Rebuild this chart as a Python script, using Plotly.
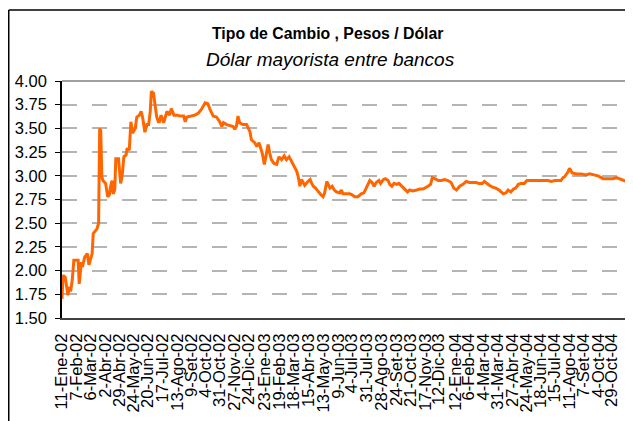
import plotly.graph_objects as go

# ---- data ----
dates = [
    "2002-01-11", "2002-01-13", "2002-01-17", "2002-01-22", "2002-01-25", "2002-01-27", "2002-01-30",
    "2002-02-02", "2002-02-10", "2002-02-12", "2002-02-16", "2002-02-18", "2002-02-22", "2002-02-27",
    "2002-03-02", "2002-03-05", "2002-03-08", "2002-03-10", "2002-03-13", "2002-03-17", "2002-03-20",
    "2002-03-22", "2002-03-24", "2002-03-26", "2002-03-28", "2002-04-02", "2002-04-06", "2002-04-09",
    "2002-04-11", "2002-04-14", "2002-04-16", "2002-04-19", "2002-04-21", "2002-04-26", "2002-04-30",
    "2002-05-03", "2002-05-06", "2002-05-10", "2002-05-12", "2002-05-16", "2002-05-19", "2002-05-22",
    "2002-05-27", "2002-05-30", "2002-06-04", "2002-06-07", "2002-06-10", "2002-06-14", "2002-06-18",
    "2002-06-21", "2002-06-24", "2002-06-26", "2002-06-30", "2002-07-03", "2002-07-06", "2002-07-09",
    "2002-07-11", "2002-07-14", "2002-07-19", "2002-07-25", "2002-07-30", "2002-08-02", "2002-08-07",
    "2002-08-13", "2002-08-19", "2002-08-25", "2002-08-28", "2002-08-31", "2002-09-09", "2002-09-15",
    "2002-09-21", "2002-09-27", "2002-10-04", "2002-10-09", "2002-10-13", "2002-10-19", "2002-10-25",
    "2002-10-31", "2002-11-04", "2002-11-07", "2002-11-13", "2002-11-19", "2002-11-25", "2002-11-28",
    "2002-12-01", "2002-12-04", "2002-12-07", "2002-12-13", "2002-12-20", "2002-12-26", "2002-12-29",
    "2003-01-04", "2003-01-08", "2003-01-12", "2003-01-16", "2003-01-18", "2003-01-22", "2003-01-26",
    "2003-01-29", "2003-02-01", "2003-02-04", "2003-02-09", "2003-02-14", "2003-02-18", "2003-02-23",
    "2003-02-28", "2003-03-04", "2003-03-09", "2003-03-14", "2003-03-18", "2003-03-23", "2003-03-26",
    "2003-03-29", "2003-04-01", "2003-04-04", "2003-04-07", "2003-04-13", "2003-04-17", "2003-04-20",
    "2003-04-23", "2003-04-27", "2003-05-02", "2003-05-07", "2003-05-11", "2003-05-14", "2003-05-18",
    "2003-05-21", "2003-05-24", "2003-05-28", "2003-06-01", "2003-06-05", "2003-06-11", "2003-06-14",
    "2003-06-17", "2003-06-24", "2003-06-30", "2003-07-04", "2003-07-09", "2003-07-15", "2003-07-21",
    "2003-07-26", "2003-07-31", "2003-08-03", "2003-08-06", "2003-08-10", "2003-08-14", "2003-08-18",
    "2003-08-23", "2003-08-26", "2003-08-31", "2003-09-04", "2003-09-09", "2003-09-12", "2003-09-16",
    "2003-09-20", "2003-09-25", "2003-09-29", "2003-10-04", "2003-10-10", "2003-10-15", "2003-10-19",
    "2003-10-25", "2003-11-01", "2003-11-07", "2003-11-13", "2003-11-17", "2003-11-22", "2003-11-27",
    "2003-11-30", "2003-12-05", "2003-12-11", "2003-12-17", "2003-12-23", "2003-12-29", "2004-01-04",
    "2004-01-09", "2004-01-14", "2004-01-20", "2004-01-26", "2004-02-01", "2004-02-07", "2004-02-13",
    "2004-02-19", "2004-02-25", "2004-03-02", "2004-03-06", "2004-03-10", "2004-03-15", "2004-03-21",
    "2004-03-27", "2004-04-02", "2004-04-07", "2004-04-10", "2004-04-15", "2004-04-19", "2004-04-24",
    "2004-04-29", "2004-05-03", "2004-05-08", "2004-05-13", "2004-05-19", "2004-05-24", "2004-06-01",
    "2004-06-07", "2004-06-13", "2004-06-19", "2004-06-26", "2004-07-02", "2004-07-08", "2004-07-15",
    "2004-07-21", "2004-07-26", "2004-07-30", "2004-08-02", "2004-08-08", "2004-08-11", "2004-08-16",
    "2004-08-24", "2004-09-02", "2004-09-11", "2004-09-17", "2004-09-24", "2004-10-03", "2004-10-12",
    "2004-10-21", "2004-10-31", "2004-11-06", "2004-11-15", "2004-11-25", "2004-12-01", "2004-12-06",
]
pesos_por_dolar = [
    1.70, 1.95, 1.93, 1.74, 1.83, 1.78, 1.90,
    2.11, 2.11, 1.86, 2.09, 2.04, 2.14, 2.18,
    2.06, 2.11, 2.18, 2.39, 2.41, 2.44, 2.50,
    3.50, 3.48, 2.99, 2.95, 2.92, 2.78, 2.80,
    2.88, 2.95, 2.81, 2.85, 3.18, 3.18, 2.92,
    3.01, 3.20, 3.22, 3.29, 3.27, 3.57, 3.45,
    3.50, 3.62, 3.64, 3.68, 3.61, 3.46, 3.54,
    3.54, 3.68, 3.89, 3.87, 3.73, 3.62, 3.57,
    3.57, 3.64, 3.56, 3.68, 3.64, 3.71, 3.64,
    3.64, 3.63, 3.63, 3.57, 3.62, 3.63, 3.64,
    3.66, 3.70, 3.77, 3.76, 3.70, 3.63, 3.62,
    3.57, 3.52, 3.56, 3.54, 3.53, 3.52, 3.49,
    3.52, 3.63, 3.56, 3.54, 3.54, 3.47, 3.38,
    3.35, 3.31, 3.35, 3.29, 3.24, 3.12, 3.22,
    3.33, 3.24, 3.17, 3.13, 3.12, 3.20, 3.17,
    3.21, 3.17, 3.20, 3.15, 3.10, 3.05, 2.99,
    2.89, 2.96, 2.92, 2.90, 2.94, 2.96, 2.92,
    2.89, 2.87, 2.83, 2.80, 2.78, 2.82, 2.94,
    2.90, 2.87, 2.89, 2.85, 2.83, 2.82, 2.85,
    2.81, 2.81, 2.81, 2.80, 2.78, 2.78, 2.81,
    2.82, 2.88, 2.93, 2.95, 2.93, 2.89, 2.93,
    2.95, 2.92, 2.96, 2.97, 2.95, 2.91, 2.89,
    2.92, 2.91, 2.92, 2.89, 2.86, 2.83, 2.85,
    2.84, 2.85, 2.86, 2.86, 2.87, 2.89, 2.91,
    2.98, 2.97, 2.95, 2.95, 2.96, 2.95, 2.93,
    2.87, 2.85, 2.89, 2.91, 2.94, 2.93, 2.93,
    2.93, 2.92, 2.92, 2.94, 2.92, 2.90, 2.88,
    2.87, 2.85, 2.82, 2.81, 2.82, 2.85, 2.83,
    2.86, 2.87, 2.91, 2.92, 2.92, 2.95, 2.95,
    2.95, 2.95, 2.95, 2.95, 2.95, 2.94, 2.95,
    2.95, 2.95, 2.98, 2.99, 3.04, 3.08, 3.03,
    3.02, 3.02, 3.01, 3.02, 3.01, 3.00, 2.97,
    2.97, 2.97, 2.98, 2.96, 2.94, 2.95, 2.95,
]

tick_dates = [
    "2002-01-11", "2002-02-07", "2002-03-06", "2002-04-02", "2002-04-29", "2002-05-24",
    "2002-06-20", "2002-07-17", "2002-08-13", "2002-09-09", "2002-10-04", "2002-10-31",
    "2002-11-27", "2002-12-24", "2003-01-23", "2003-02-19", "2003-03-18", "2003-04-15",
    "2003-05-13", "2003-06-09", "2003-07-04", "2003-07-31", "2003-08-28", "2003-09-24",
    "2003-10-21", "2003-11-17", "2003-12-12", "2004-01-12", "2004-02-06", "2004-03-04",
    "2004-03-31", "2004-04-27", "2004-05-24", "2004-06-18", "2004-07-15", "2004-08-11",
    "2004-09-07", "2004-10-04", "2004-10-29", "2004-11-25",
]
tick_labels = [
    "11-Ene-02", "7-Feb-02", "6-Mar-02", "2-Abr-02", "29-Abr-02", "24-May-02",
    "20-Jun-02", "17-Jul-02", "13-Ago-02", "9-Set-02", "4-Oct-02", "31-Oct-02",
    "27-Nov-02", "24-Dic-02", "23-Ene-03", "19-Feb-03", "18-Mar-03", "15-Abr-03",
    "13-May-03", "9-Jun-03", "4-Jul-03", "31-Jul-03", "28-Ago-03", "24-Set-03",
    "21-Oct-03", "17-Nov-03", "12-Dic-03", "12-Ene-04", "6-Feb-04", "4-Mar-04",
    "31-Mar-04", "27-Abr-04", "24-May-04", "18-Jun-04", "15-Jul-04", "11-Ago-04",
    "7-Set-04", "4-Oct-04", "29-Oct-04", "25-Nov-04",
]

title_text = "Tipo de Cambio , Pesos / Dólar"
subtitle_text = "Dólar mayorista entre bancos"

FONT = "Arial, 'Liberation Sans', Helvetica, sans-serif"

# The page body has an 8px margin, so the figure is drawn 8px right and down.
OFF = 8
W, H = 633 - OFF, 421 - OFF
# plot area in window pixels: left 62, top 81, bottom 318, right 633
ML, MR, MT = 62 - OFF, 0, 81 - OFF
MB = H - (318 - OFF)
PW, PH = W - ML - MR, H - MT - MB


def px_x(px):
    """window pixel x -> paper coordinate"""
    return (px - OFF - ML) / PW


def px_y(py):
    """window pixel y -> paper coordinate"""
    return (H - MB - (py - OFF)) / PH


fig = go.Figure()
fig.add_trace(go.Scatter(
    x=dates, y=pesos_por_dolar, mode="lines",
    line=dict(color="#FF6600", width=3),
    showlegend=False, hoverinfo="x+y",
))

fig.update_layout(
    width=W, height=H, autosize=False,
    margin=dict(l=ML, r=MR, t=MT, b=MB, pad=0),
    paper_bgcolor="white", plot_bgcolor="white",
    font=dict(family=FONT, color="black", size=15),
    showlegend=False,
)

fig.update_xaxes(
    type="date",
    range=["2002-01-11", "2004-12-07"],
    tickmode="array", tickvals=tick_dates, ticktext=tick_labels,
    tickangle=-90, tickfont=dict(size=16.5, family=FONT, color="black"),
    ticklabelstandoff=7,
    showgrid=False, zeroline=False,
    showline=True, linecolor="#404040", linewidth=2,
    ticks="", fixedrange=True,
)
fig.update_yaxes(
    range=[1.5, 4.0], dtick=0.25, tick0=1.5, tickformat=".2f",
    tickfont=dict(size=16.5, family=FONT, color="black"),
    ticklabelstandoff=5,
    showgrid=True, gridcolor="#b4b4b4", gridwidth=1.5, griddash="longdash",
    zeroline=False,
    showline=True, linecolor="black", linewidth=1.5,
    ticks="outside", ticklen=5, tickcolor="black", tickwidth=1,
    fixedrange=True,
)

# top edge of plot area (solid gray)
fig.add_shape(type="line", xref="paper", yref="paper", x0=0, x1=1, y0=1, y1=1,
              line=dict(color="#808080", width=1.5))
# outer chart border (left and top edges visible)
fig.add_shape(type="line", xref="paper", yref="paper",
              x0=px_x(8.75), x1=px_x(8.75), y0=px_y(10), y1=px_y(430),
              line=dict(color="black", width=1.5))
fig.add_shape(type="line", xref="paper", yref="paper",
              x0=px_x(8.75), x1=px_x(640), y0=px_y(10), y1=px_y(10),
              line=dict(color="black", width=1.5))

fig.add_annotation(text="<b>" + title_text + "</b>", xref="paper", yref="paper",
                   x=px_x(327), y=px_y(33), xanchor="center", yanchor="middle",
                   showarrow=False, font=dict(size=15.8, family=FONT, color="black"))
fig.add_annotation(text="<i>" + subtitle_text + "</i>", xref="paper", yref="paper",
                   x=px_x(330), y=px_y(59), xanchor="center", yanchor="middle",
                   showarrow=False, font=dict(size=19, family=FONT, color="black"))

fig.write_html("out.html")
